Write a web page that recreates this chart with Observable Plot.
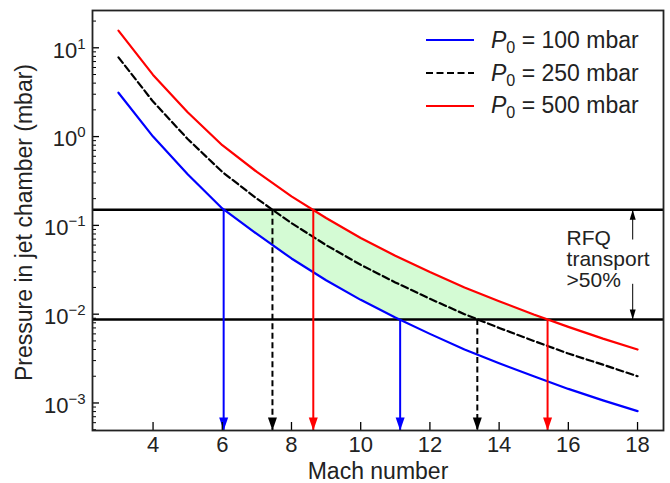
<!DOCTYPE html>
<html><head><meta charset="utf-8">
<script src="https://cdn.jsdelivr.net/npm/d3@7"></script>
<script src="https://cdn.jsdelivr.net/npm/@observablehq/plot@0.6"></script>
<style>
body{margin:0;background:#fff;}
#wrap{position:relative;width:670px;height:483px;font-family:"Liberation Sans",Arial,sans-serif;background:#fff;}
#legend{position:absolute;left:426px;top:24px;font-size:23px;color:#222;}
.row{display:flex;align-items:center;height:32.7px;}
.row svg{display:block;}
.row span{margin-left:17px;line-height:1;white-space:nowrap;}
.row sub{font-size:0.7em;vertical-align:-0.3em;line-height:0;}
</style></head><body>
<div id="wrap"><div id="chart"></div><div id="legend"></div></div>
<script>
// ---- data ----
const mach = [3, 4, 5, 6, 7, 8, 9, 10, 11, 12, 13, 14, 15, 16, 17, 18];
const p100 = [3.12, 1.0, 0.376, 0.155, 0.080, 0.0424, 0.0241, 0.0145, 0.0092, 0.0060, 0.0040, 0.0028, 0.0020, 0.00144, 0.00107, 0.00081];
const p250 = [7.8, 2.48, 0.94, 0.40, 0.200, 0.106, 0.060, 0.036, 0.0228, 0.0149, 0.0100, 0.0070, 0.0050, 0.0036, 0.0027, 0.0020];
const p500 = [15.6, 4.95, 1.88, 0.80, 0.40, 0.212, 0.121, 0.072, 0.0455, 0.0298, 0.0200, 0.0140, 0.0099, 0.0072, 0.0053, 0.0040];
const stagnation = [100, 250, 500];            // P0 in mbar
const seriesColors = ["#0000ff", "#000000", "#ff0000"];
const seriesDash = [null, "7,3.5", null];
const bandTop = 0.15;                            // RFQ transport band (mbar)
const bandBottom = 0.0087;
const crossTop = [6.04, 7.45, 8.63];             // Mach at band top, per series
const crossBottom = [11.14, 13.37, 15.4];        // Mach at band bottom, per series
const xTicks = [4, 6, 8, 10, 12, 14, 16, 18];
const yTicks = [1e-3, 1e-2, 1e-1, 1, 10];
const xLabel = "Mach number";
const yLabel = "Pressure in jet chamber (mbar)";
const bandLabel = "RFQ\ntransport\n>50%";
const bandArrowX = 17.86;
const bandArrowEnds = [0.0684, 0.0217];

// ---- layout helpers ----
const xDomain = [2.25, 18.75];
const yDomain = [Math.pow(10, -3.31), Math.pow(10, 1.42)];
const yMinor = [];
for (let k = -4; k <= 1; k++) for (let m = 2; m <= 9; m++) {
  const v = m * Math.pow(10, k);
  if (v > yDomain[0] && v < yDomain[1]) yMinor.push(v);
}
const seriesValues = [p100, p250, p500];
const rows = seriesValues.map(vals => mach.map((m, i) => ({m, p: vals[i]})));

// green band polygon between the 100 mbar and 500 mbar curves
const poly = [
  {m: crossTop[0], p: bandTop},
  {m: crossTop[2], p: bandTop},
  ...rows[2].filter(d => d.m > crossTop[2] && d.m < crossBottom[2]),
  {m: crossBottom[2], p: bandBottom},
  {m: crossBottom[0], p: bandBottom},
  ...rows[0].filter(d => d.m > crossTop[0] && d.m < crossBottom[0]).reverse()
];

function head(len, hw, dir) { // dir 1 = pointing down, -1 = up; tip at origin
  return {draw(ctx) { ctx.moveTo(0, 0); ctx.lineTo(-hw, -dir * len); ctx.lineTo(hw, -dir * len); ctx.closePath(); }};
}

const marks = [
  Plot.line(poly, {x: "m", y: "p", fill: "#d4fbd4", stroke: "none"}),
  Plot.ruleY([bandTop, bandBottom], {stroke: "#000", strokeWidth: 2.5}),
];
seriesValues.forEach((vals, i) => {
  marks.push(Plot.line(rows[i], {x: "m", y: "p", stroke: seriesColors[i], strokeWidth: 2.2, strokeDasharray: seriesDash[i]}));
});
seriesValues.forEach((vals, i) => {
  const arr = [{m: crossTop[i], level: bandTop}, {m: crossBottom[i], level: bandBottom}];
  marks.push(Plot.ruleX(arr, {x: "m", y1: "level", y2: yDomain[0], stroke: seriesColors[i], strokeWidth: 2, strokeDasharray: seriesDash[i] ? "6,3.5" : null}));
  marks.push(Plot.dot(arr, {x: "m", y: yDomain[0], symbol: head(13, 4.5, 1), fill: seriesColors[i], stroke: "none"}));
});
// band annotation arrows
marks.push(
  Plot.ruleX([{m: bandArrowX, a: bandArrowEnds[0], b: bandTop}], {x: "m", y1: "a", y2: "b", stroke: "#000", strokeWidth: 1}),
  Plot.dot([{m: bandArrowX, p: bandTop}], {x: "m", y: "p", symbol: head(10, 3, -1), fill: "#000", stroke: "none"}),
  Plot.ruleX([{m: bandArrowX, a: bandArrowEnds[1], b: bandBottom}], {x: "m", y1: "a", y2: "b", stroke: "#000", strokeWidth: 1}),
  Plot.dot([{m: bandArrowX, p: bandBottom}], {x: "m", y: "p", symbol: head(10, 3, 1), fill: "#000", stroke: "none"}),
  Plot.text([bandLabel], {x: 15.95, y: Math.sqrt(bandTop * bandBottom), dy: -5, textAnchor: "start", lineAnchor: "middle", lineHeight: 1.0, fontSize: 21, fill: "#222"})
);
// axes
marks.push(
  Plot.axisX({ticks: xTicks, tickSize: -8, tickFormat: () => "", label: null, stroke: "#000", strokeWidth: 1.3}),
  Plot.axisX({ticks: xTicks, tickSize: 0, tickPadding: 6, label: null, fontSize: 22, fill: "#222"}),
  Plot.axisY({ticks: yTicks, tickSize: -7, tickFormat: () => "", label: null, stroke: "#000", strokeWidth: 1.3}),
  Plot.axisY({ticks: yMinor, tickSize: -4, tickFormat: () => "", label: null, stroke: "#000", strokeWidth: 1}),
  Plot.axisY({ticks: yTicks, tickSize: 0, tickPadding: 7, label: null, fontSize: 22, fill: "#222",
              tickFormat: d => String(Math.round(Math.log10(d)))}),
  Plot.text([xLabel], {frameAnchor: "bottom", textAnchor: "middle", lineAnchor: "middle", dy: 41, fontSize: 23, fill: "#222"}),
  Plot.text([yLabel], {frameAnchor: "left", textAnchor: "middle", lineAnchor: "middle", rotate: -90, dx: -68, dy: 2, fontSize: 23, fill: "#222"}),
  Plot.frame({stroke: "#222", strokeWidth: 1.8})
);

const chart = Plot.plot({
  width: 670, height: 483,
  marginLeft: 92, marginRight: 7, marginTop: 10, marginBottom: 53,
  x: {domain: xDomain},
  y: {type: "log", domain: yDomain},
  style: {fontFamily: '"Liberation Sans", Arial, sans-serif', fontSize: "22px", background: "#fff", color: "#000", overflow: "visible"},
  marks
});
// superscript exponents on y tick labels
chart.querySelectorAll('[aria-label="y-axis tick label"] text').forEach(t => {
  const e = t.textContent;
  if (!e) return;
  t.textContent = "10";
  t.setAttribute("y", "0.45em");
  const ts = document.createElementNS("http://www.w3.org/2000/svg", "tspan");
  ts.setAttribute("dy", "-9");
  ts.setAttribute("font-size", "15");
  ts.textContent = e.replace("-", "\u2212");
  t.appendChild(ts);
});
document.getElementById("chart").appendChild(chart);

// legend (inside the axes, top right)
const legend = document.getElementById("legend");
stagnation.forEach((p0, i) => {
  const row = document.createElement("div");
  row.className = "row";
  const dash = seriesDash[i] ? ` stroke-dasharray="${seriesDash[i]}"` : "";
  row.innerHTML = `<svg width="48" height="4"><line x1="0" x2="48" y1="2" y2="2" stroke="${seriesColors[i]}" stroke-width="2.2"${dash}/></svg>` +
    `<span><i>P</i><sub>0</sub> = ${p0} mbar</span>`;
  legend.appendChild(row);
});
</script>
</body></html>
